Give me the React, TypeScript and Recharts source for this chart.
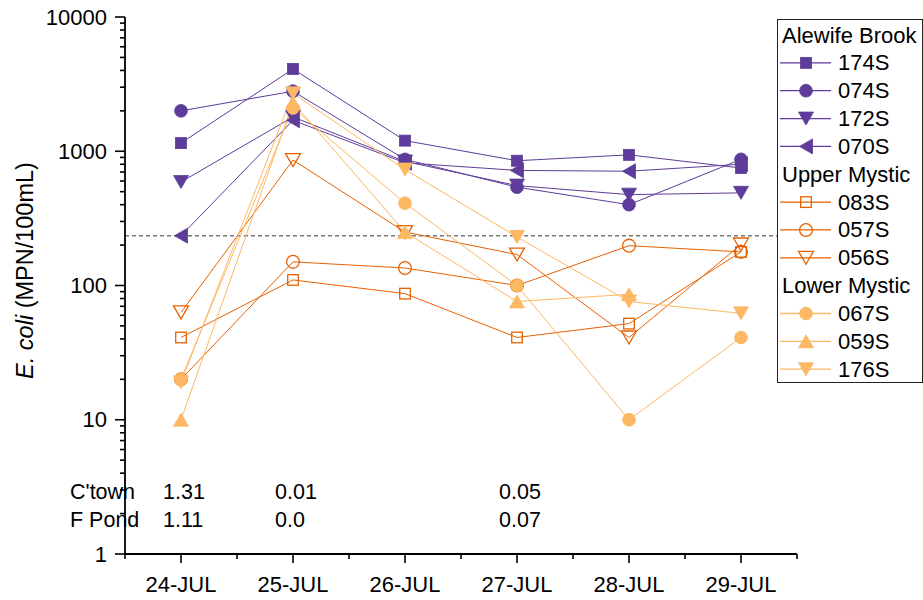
import React from "react";
import { ComposedChart, Line, Scatter, XAxis, YAxis, ReferenceLine } from "recharts";

const dates = ["24-JUL", "25-JUL", "26-JUL", "27-JUL", "28-JUL", "29-JUL"];
const xTicks = [-0.5, 0, 0.5, 1, 1.5, 2, 2.5, 3, 3.5, 4, 4.5, 5, 5.5];
const yDecades = [1, 10, 100, 1000];
const yMinorSteps = [2, 3, 4, 5, 6, 7, 8, 9];
const yTopTick = 10000;

// E. coli, MPN/100mL
const s174S = [1150, 4100, 1200, 850, 940, 750];
const s074S = [2000, 2800, 870, 540, 400, 870];
const s172S = [590, 1800, 840, 555, 475, 490];
const s070S = [235, 1700, 820, 720, 710, 800];
const s083S = [41, 110, 87, 41, 52, 178];
const s057S = [20, 150, 135, 100, 198, 178];
const s056S = [63, 860, 250, 170, 41, 202];
const s067S = [20, 2100, 410, 100, 10, 41];
const s059S = [10, 2300, 250, 76, 86, null];
const s176S = [19, 2700, 730, 230, 76, 62];

const standardLimit = 235;

// rainfall notes under the lines
const ctownRain = ["1.31", "0.01", "", "0.05", "", ""];
const fpondRain = ["1.11", "0.0", "", "0.07", "", ""];
const rainRowNames = ["C'town", "F Pond"];
const rainRowY = [2.9, 1.8];

const groups = ["Alewife Brook", "Upper Mystic", "Lower Mystic"];
const groupColors = ["#5e3c99", "#e66101", "#fdb863"];

const series = [
  { key: "174S", values: s174S, group: 0, shape: "square", filled: true },
  { key: "074S", values: s074S, group: 0, shape: "circle", filled: true },
  { key: "172S", values: s172S, group: 0, shape: "down", filled: true },
  { key: "070S", values: s070S, group: 0, shape: "left", filled: true },
  { key: "083S", values: s083S, group: 1, shape: "square", filled: false },
  { key: "057S", values: s057S, group: 1, shape: "circle", filled: false },
  { key: "056S", values: s056S, group: 1, shape: "down", filled: false },
  { key: "067S", values: s067S, group: 2, shape: "circle", filled: true },
  { key: "059S", values: s059S, group: 2, shape: "up", filled: true },
  { key: "176S", values: s176S, group: 2, shape: "down", filled: true },
];

const rows = dates.map((d, i) => {
  const row: Record<string, any> = { x: i, date: d };
  series.forEach((s) => {
    row[s.key] = s.values[i];
  });
  return row;
});

const yTicks = [...yDecades.flatMap((d) => [d, ...yMinorSteps.map((m) => d * m)]), yTopTick];

const rainPoints = [
  { x: -0.5, y: rainRowY[0], text: rainRowNames[0], lead: true },
  { x: -0.5, y: rainRowY[1], text: rainRowNames[1], lead: true },
  ...ctownRain.map((t, i) => ({ x: i, y: rainRowY[0], text: t, lead: false })),
  ...fpondRain.map((t, i) => ({ x: i, y: rainRowY[1], text: t, lead: false })),
].filter((p) => p.text !== "");

const FONT = "'Liberation Sans', Arial, sans-serif";

function Marker({ cx, cy, shape, color, filled }: any) {
  const fill = filled ? color : "none";
  const stroke = color;
  const sw = filled ? 0.8 : 1.3;
  if (shape === "square") {
    const h = filled ? 5.5 : 5.3;
    return <rect x={cx - h} y={cy - h} width={2 * h} height={2 * h} fill={fill} stroke={stroke} strokeWidth={sw} />;
  }
  if (shape === "circle") {
    return <circle cx={cx} cy={cy} r={6.4} fill={fill} stroke={stroke} strokeWidth={sw} />;
  }
  let pts = "";
  if (shape === "down") pts = `${cx - 7.5},${cy - 6.5} ${cx + 7.5},${cy - 6.5} ${cx},${cy + 6.5}`;
  if (shape === "up") pts = `${cx - 7.5},${cy + 6.5} ${cx + 7.5},${cy + 6.5} ${cx},${cy - 6.5}`;
  if (shape === "left") pts = `${cx + 6.5},${cy - 7.5} ${cx + 6.5},${cy + 7.5} ${cx - 6.5},${cy}`;
  return <polygon points={pts} fill={fill} stroke={stroke} strokeWidth={sw} strokeLinejoin="miter" />;
}

const XTick = (props: any) => {
  const { x, y, payload } = props;
  const v = payload.value;
  const major = Number.isInteger(v);
  return (
    <g>
      <line x1={x} x2={x} y1={y} y2={y + (major ? 9 : 5)} stroke="#000" strokeWidth={1.6} />
      {major && (
        <text x={x} y={y + 38} textAnchor="middle" fontSize={22} fontFamily={FONT} fill="#000">
          {dates[v]}
        </text>
      )}
    </g>
  );
};

const YTick = (props: any) => {
  const { x, y, payload } = props;
  const v = payload.value;
  const major = Math.abs(Math.log10(v) - Math.round(Math.log10(v))) < 1e-9;
  return (
    <g>
      <line x1={x - (major ? 10 : 5)} x2={x} y1={y} y2={y} stroke="#000" strokeWidth={1.6} />
      {major && (
        <text x={x - 18} y={y + 7.5} textAnchor="end" fontSize={22} fontFamily={FONT} fill="#000">
          {v}
        </text>
      )}
    </g>
  );
};

const YLabel = (props: any) => {
  const vb = props.viewBox || { x: 0, y: 17, width: 125, height: 537 };
  const cx = vb.x + 33;
  const cy = vb.y + vb.height / 2 - 15;
  return (
    <text x={cx} y={cy} transform={`rotate(-90 ${cx} ${cy})`} textAnchor="middle" fontSize={23.5} fontFamily={FONT} fill="#000">
      <tspan fontStyle="italic">E. coli</tspan>
      {" (MPN/100mL)"}
    </text>
  );
};

const RainText = (props: any) => {
  const { cx, cy, payload } = props;
  return (
    <text
      x={payload.lead ? cx - 55 : cx - 18}
      y={cy + 7.5}
      textAnchor="start"
      fontSize={21.5}
      fontFamily={FONT}
      fill="#000"
    >
      {payload.text}
    </text>
  );
};

function LegendBox() {
  const rowH = 27.85;
  const items: React.ReactNode[] = [];
  let r = 0;
  groups.forEach((g, gi) => {
    items.push(
      <text key={g} x={5} y={16 + r * rowH + 7.5} fontSize={22} fontFamily={FONT} fill="#000">
        {g}
      </text>
    );
    r++;
    series
      .filter((s) => s.group === gi)
      .forEach((s) => {
        const cy = 16 + r * rowH;
        items.push(
          <g key={s.key}>
            <line x1={3} x2={54} y1={cy} y2={cy} stroke={groupColors[gi]} strokeWidth={1.3} />
            <Marker cx={29} cy={cy} shape={s.shape} color={groupColors[gi]} filled={s.filled} />
            <text x={61} y={cy + 7.5} fontSize={22} fontFamily={FONT} fill="#000">
              {s.key}
            </text>
          </g>
        );
        r++;
      });
  });
  return (
    <svg width={146} height={365} style={{ position: "absolute", left: 777, top: 19 }}>
      <rect x={0.5} y={0.5} width={145} height={363} fill="#fff" stroke="#222" strokeWidth={1} />
      {items}
    </svg>
  );
}

export default function App() {
  return (
    <div style={{ position: "absolute", left: 0, top: 0, width: 923, height: 600, background: "#fff", fontFamily: FONT }}>
      <ComposedChart width={923} height={600} data={rows} margin={{ top: 17, right: 126, bottom: 0, left: 0 }}>
        <XAxis
          dataKey="x"
          type="number"
          domain={[-0.5, 5.5]}
          ticks={xTicks}
          interval={0}
          tick={<XTick />}
          tickLine={false}
          tickSize={0}
          tickMargin={0}
          height={46}
          axisLine={{ stroke: "#000", strokeWidth: 1.8 }}
        />
        <YAxis
          type="number"
          scale="log"
          domain={[1, 10000]}
          ticks={yTicks}
          interval={0}
          tick={<YTick />}
          tickLine={false}
          tickSize={0}
          tickMargin={0}
          width={125}
          axisLine={{ stroke: "#000", strokeWidth: 1.8 }}
          label={(p: any) => <YLabel {...p} />}
        />
        <ReferenceLine y={standardLimit} stroke="#777" strokeWidth={1.6} strokeDasharray="4 3" />
        {series.map((s) => (
          <Line
            key={s.key}
            dataKey={s.key}
            type="linear"
            stroke={groupColors[s.group]}
            strokeWidth={1}
            isAnimationActive={false}
            activeDot={false}
            dot={(p: any) =>
              p.cy == null || p.value == null ? (
                <g key={`${s.key}-${p.index}`} />
              ) : (
                <Marker
                  key={`${s.key}-${p.index}`}
                  cx={p.cx}
                  cy={p.cy}
                  shape={s.shape}
                  color={groupColors[s.group]}
                  filled={s.filled}
                />
              )
            }
          />
        ))}
        <Scatter data={rainPoints} dataKey="y" isAnimationActive={false} shape={<RainText />} />
      </ComposedChart>
      <LegendBox />
    </div>
  );
}
